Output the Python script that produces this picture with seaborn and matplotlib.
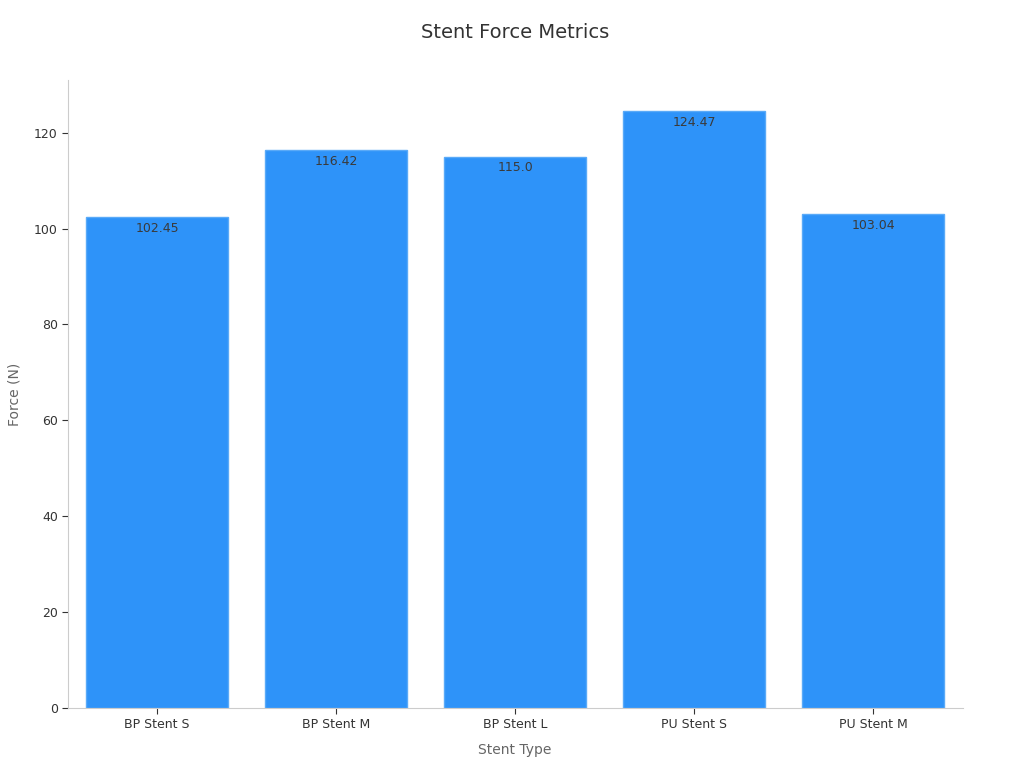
import seaborn as sns
import pandas as pd
import matplotlib.pyplot as plt

# data
stent_types = ["BP Stent S", "BP Stent M", "BP Stent L", "PU Stent S", "PU Stent M"]
force_values = [102.45, 116.42, 115.0, 124.47, 103.04]

df = pd.DataFrame({"stent": stent_types, "force": force_values})

sns.set_style("white")
plt.rcParams["font.family"] = ["DejaVu Sans"]

fig = plt.figure(figsize=(10.24, 7.68), dpi=100)
ax = fig.add_axes([0.066, 0.078, 0.874, 0.818])

sns.barplot(
    data=df, x="stent", y="force", ax=ax,
    color="#2E93F9", saturation=1, width=0.79,
    edgecolor="#5AAAF8", linewidth=1
)

# value labels just inside the top of each bar
for i, v in enumerate(force_values):
    ax.text(i, v - 1, str(v), ha="center", va="top",
            fontsize=9, color="#3A3A3A")

ax.set_xlim(-0.5, 4.5)
ax.set_ylim(0, 131)
ax.set_yticks([0, 20, 40, 60, 80, 100, 120])

ax.set_title("Stent Force Metrics", fontsize=14, color="#333333", pad=30)
ax.set_xlabel("Stent Type", fontsize=10, color="#666666", labelpad=9)
ax.set_ylabel("Force (N)", fontsize=10, color="#666666", labelpad=9)

ax.tick_params(axis="both", labelsize=9, colors="#333333", length=4,
               width=0.8, left=True, bottom=True, pad=3)
for side in ["top", "right"]:
    ax.spines[side].set_visible(False)
for side in ["left", "bottom"]:
    ax.spines[side].set_color("#CCCCCC")
    ax.spines[side].set_linewidth(0.8)

plt.savefig("out.png", dpi=100)
